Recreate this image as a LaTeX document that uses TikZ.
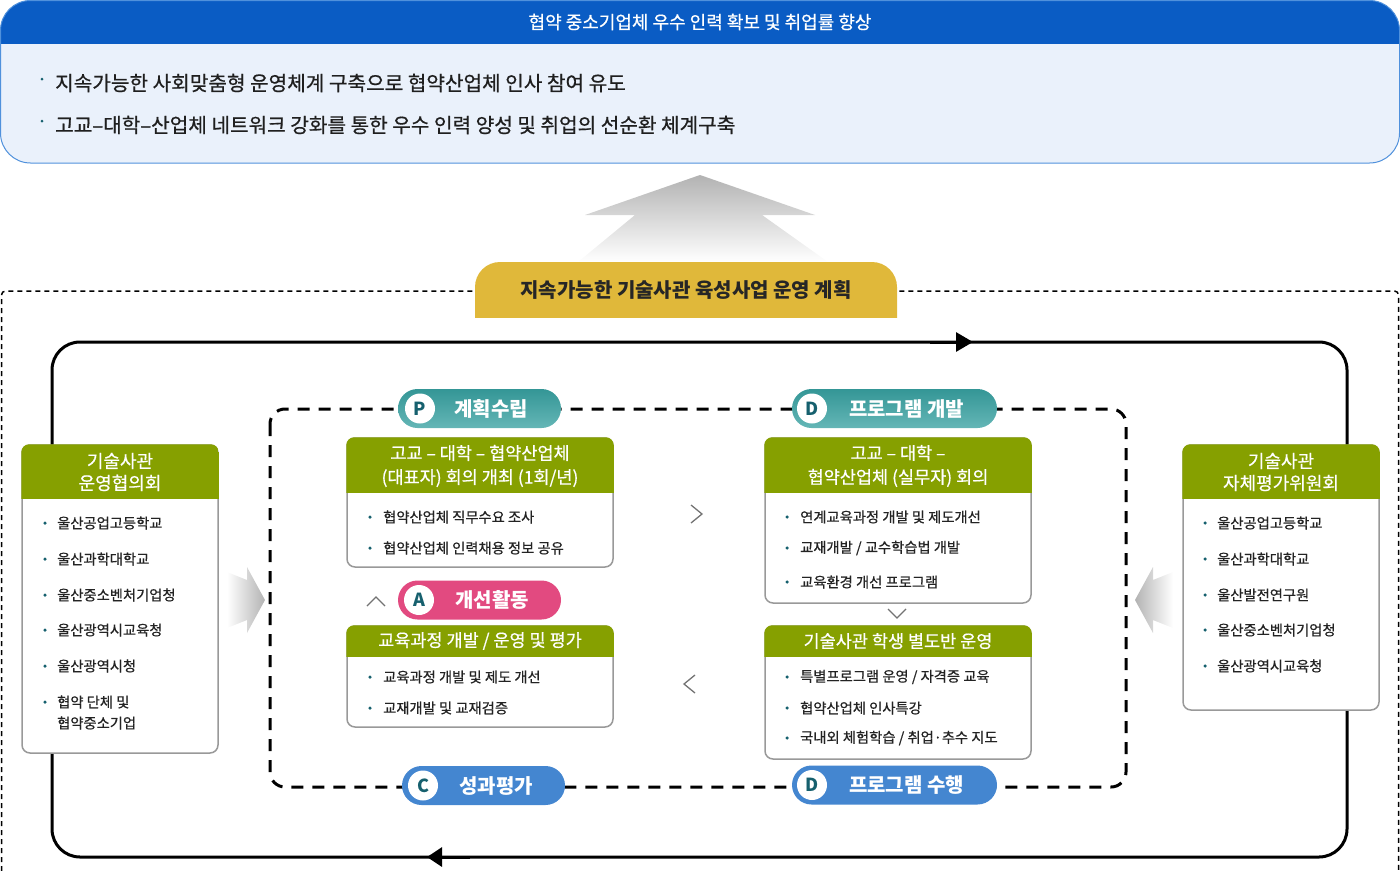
\documentclass[tikz,border=0pt]{standalone}
\usepackage{fontspec}
\setmainfont{Noto Sans CJK KR}
\newfontfamily\medfont{Noto Sans CJK KR}[FakeBold=0.6]
\usetikzlibrary{arrows.meta}

\definecolor{hdblue}{RGB}{10,92,196}
\definecolor{paleblue}{RGB}{234,241,251}
\definecolor{edgeblue}{RGB}{80,145,220}
\definecolor{olive}{RGB}{134,160,0}
\definecolor{tabgold}{RGB}{224,184,58}
\definecolor{tealtop}{RGB}{52,150,150}
\definecolor{tealbot}{RGB}{100,182,182}
\definecolor{pinkbdg}{RGB}{226,74,128}
\definecolor{bluebdg}{RGB}{68,134,208}
\definecolor{dotteal}{RGB}{22,96,110}
\definecolor{itemgray}{RGB}{35,35,35}

\tikzset{
  hdrtxt/.style={text=white, align=center, inner sep=0pt, font=\medfont\fontsize{17.5}{24}\selectfont},
  itemtxt/.style={anchor=west, text=itemgray, inner sep=0pt, align=left, font=\medfont\fontsize{14.3}{21}\selectfont},
  bullet/.style={circle, fill=dotteal, inner sep=0pt, minimum size=3.5pt},
  bodybox/.style={draw=black!40, line width=1.5pt, fill=white, rounded corners=8},
  pill/.style={rounded corners=19.5, minimum height=39pt, inner sep=0pt},
  lettr/.style={circle, fill=white, minimum size=30pt, inner sep=0pt, text=dotteal, font=\fontsize{18}{18}\selectfont\bfseries},
  pilltxt/.style={text=white, inner sep=0pt, font=\fontsize{20}{20}\selectfont\bfseries},
  chev/.style={draw=black!55, line width=1.3pt},
  loopline/.style={line width=3pt, rounded corners=28},
  innerdash/.style={line width=3pt, dash pattern=on 12pt off 9pt, rounded corners=15},
  outerdash/.style={line width=1.5pt, dash pattern=on 5pt off 4pt},
}

\begin{document}
\begin{tikzpicture}[x=1pt, y=-1pt]
\useasboundingbox (0,0) rectangle (1400,870);

% goal box
\begin{scope}
  \clip[rounded corners=30] (0.5,0.5) rectangle (1399.5,163);
  \fill[paleblue] (0,0) rectangle (1400,163);
  \fill[hdblue] (0,0) rectangle (1400,44);
\end{scope}
\draw[edgeblue, line width=1pt, rounded corners=30] (0.5,0.5) rectangle (1399.5,163);
\node[text=white, font=\medfont\fontsize{18}{18}\selectfont] (goal) at (700,22) {협약 중소기업체 우수 인력 확보 및 취업률 향상};
\node[bullet, minimum size=3pt] (g1) at (42,79) {};
\node[anchor=west, inner sep=0pt, text=black!88, font=\medfont\fontsize{20.2}{20.2}\selectfont] (goal-1) at (55,83) {지속가능한 사회맞춤형 운영체계 구축으로 협약산업체 인사 참여 유도};
\node[bullet, minimum size=3pt] (g2) at (42,121) {};
\node[anchor=west, inner sep=0pt, text=black!88, font=\medfont\fontsize{20.2}{20.2}\selectfont] (goal-2) at (55,125) {고교–대학–산업체 네트워크 강화를 통한 우수 인력 양성 및 취업의 선순환 체계구축};

% big arrow up
\shade[top color=black!30, bottom color=white] (700,175) -- (815,215) -- (762,215) -- (828,262) -- (578,262) -- (635,215) -- (585,215) -- cycle;

% outer dashed frame
\draw[outerdash, rounded corners=4] (1.5,880) -- (1.5,291) -- (1398.5,291) -- (1398.5,880);

% plan tab
\begin{scope}
  \clip (0,250) rectangle (1400,317);
  \fill[tabgold, rounded corners=25] (475,262) rectangle (897,345);
\end{scope}
\node[text=black!85, font=\fontsize{20}{20}\selectfont\bfseries] (plan) at (686,290) {지속가능한 기술사관 육성사업 운영 계획};

% cycle loop
\draw[loopline] (52,342) rectangle (1347,857);
\draw[line width=3pt, -{Triangle[length=17pt,width=19pt]}] (930,342) -- (973,342);
\draw[line width=3pt, -{Triangle[length=15pt,width=19pt]}] (470,857) -- (427,857);

% inner PDCA frame
\draw[innerdash] (270,409) rectangle (1126,787);

% side arrows
\shade[left color=white, right color=black!30] (227,572) -- (247,580) -- (247,567) -- (265,600) -- (247,633) -- (247,620) -- (227,628) -- cycle;
\shade[right color=white, left color=black!30] (1173,572) -- (1153,580) -- (1153,567) -- (1135,600) -- (1153,633) -- (1153,620) -- (1173,628) -- cycle;

% left council box
\draw[bodybox] (22,445) rectangle (218,753);
\begin{scope}
  \clip[rounded corners=8] (21.25,444.25) rectangle (218.75,753);
  \fill[olive] (21,444) rectangle (219,499);
\end{scope}
\node[hdrtxt, font=\medfont\fontsize{18}{22}\selectfont] (council) at (120,472) {기술사관\\운영협의회};
\foreach \y/\t [count=\i] in {523/울산공업고등학교, 559/울산과학대학교, 595/울산중소벤처기업청, 630/울산광역시교육청, 666/울산광역시청} {
  \node[bullet] (cb-\i) at (45,\y) {};
  \node[itemtxt] (c-\i) at (57,\y) {\t};
}
\node[bullet] (cb-6) at (45,702) {};
\node[itemtxt] (c-6) at (57,712.5) {협약 단체 및\\협약중소기업};

% right committee box
\draw[bodybox] (1183,445) rectangle (1379,710);
\begin{scope}
  \clip[rounded corners=8] (1182.25,444.25) rectangle (1379.75,710);
  \fill[olive] (1182,444) rectangle (1380,499);
\end{scope}
\node[hdrtxt, font=\medfont\fontsize{18}{22}\selectfont] (committee) at (1281,472) {기술사관\\자체평가위원회};
\foreach \y/\t [count=\i] in {523/울산공업고등학교, 559/울산과학대학교, 595/울산발전연구원, 630/울산중소벤처기업청, 666/울산광역시교육청} {
  \node[bullet] (eb-\i) at (1205,\y) {};
  \node[itemtxt] (e-\i) at (1217,\y) {\t};
}

% P box
\draw[bodybox] (347,438) rectangle (613,567);
\begin{scope}
  \clip[rounded corners=8] (346.25,437.25) rectangle (613.75,567);
  \fill[olive] (346,437) rectangle (614,493);
\end{scope}
\node[hdrtxt] (plan-hd) at (480,466) {고교 – 대학 – 협약산업체\\(대표자) 회의 개최 (1회/년)};
\foreach \y/\t [count=\i] in {517/협약산업체 직무수요 조사, 548/협약산업체 인력채용 정보 공유} {
  \node[bullet] (pb-\i) at (370,\y) {};
  \node[itemtxt] (p-\i) at (383,\y) {\t};
}

% D box (develop)
\draw[bodybox] (765,438) rectangle (1031,603);
\begin{scope}
  \clip[rounded corners=8] (764.25,437.25) rectangle (1031.75,603);
  \fill[olive] (764,437) rectangle (1032,493);
\end{scope}
\node[hdrtxt] (dev-hd) at (898,466) {고교 – 대학 –\\협약산업체 (실무자) 회의};
\foreach \y/\t [count=\i] in {517/연계교육과정 개발 및 제도개선, 548/{교재개발 / 교수학습법 개발}, 582/교육환경 개선 프로그램} {
  \node[bullet] (db-\i) at (787,\y) {};
  \node[itemtxt] (d-\i) at (800,\y) {\t};
}

% A box
\draw[bodybox] (347,626) rectangle (613,727);
\begin{scope}
  \clip[rounded corners=8] (346.25,625.25) rectangle (613.75,727);
  \fill[olive] (346,625) rectangle (614,657);
\end{scope}
\node[hdrtxt] (act-hd) at (480,641) {교육과정 개발 / 운영 및 평가};
\foreach \y/\t [count=\i] in {677/교육과정 개발 및 제도 개선, 708/교재개발 및 교재검증} {
  \node[bullet] (ab-\i) at (370,\y) {};
  \node[itemtxt] (a-\i) at (383,\y) {\t};
}

% D box (run)
\draw[bodybox] (765,626) rectangle (1031,759);
\begin{scope}
  \clip[rounded corners=8] (764.25,625.25) rectangle (1031.75,759);
  \fill[olive] (764,625) rectangle (1032,657);
\end{scope}
\node[hdrtxt] (run-hd) at (898,641) {기술사관 학생 별도반 운영};
\foreach \y/\t [count=\i] in {677/{특별프로그램 운영 / 자격증 교육}, 708/협약산업체 인사특강, 738/{국내외 체험학습 / 취업·추수 지도}} {
  \node[bullet] (rb-\i) at (787,\y) {};
  \node[itemtxt] (r-\i) at (800,\y) {\t};
}

% badges
\node[pill, top color=tealtop, bottom color=tealbot, minimum width=163pt] (pill-p) at (479.5,408.5) {};
\node[lettr] (let-p) at (420,408.5) {P};
\node[pilltxt] (txt-p) at (491,408.5) {계획수립};

\node[pill, top color=tealtop, bottom color=tealbot, minimum width=205pt] (pill-d1) at (894.5,408.5) {};
\node[lettr] (let-d1) at (812,408.5) {D};
\node[pilltxt] (txt-d1) at (906.5,408.5) {프로그램 개발};

\node[pill, fill=pinkbdg, minimum width=163pt] (pill-a) at (479.5,600) {};
\node[lettr] (let-a) at (419,600) {A};
\node[pilltxt] (txt-a) at (492,600) {개선활동};

\node[pill, fill=bluebdg, minimum width=163pt] (pill-c) at (483.5,785.5) {};
\node[lettr] (let-c) at (423,785.5) {C};
\node[pilltxt] (txt-c) at (496,785.5) {성과평가};

\node[pill, fill=bluebdg, minimum width=205pt] (pill-d2) at (894.5,785) {};
\node[lettr] (let-d2) at (812,785) {D};
\node[pilltxt] (txt-d2) at (906.5,785) {프로그램 수행};

% chevrons
\draw[chev] (691,505) -- (702,514) -- (691,523);
\draw[chev] (888,609) -- (897,618) -- (906,609);
\draw[chev] (695,675) -- (684,684) -- (695,693);
\draw[chev] (367,606) -- (376,597) -- (385,606);

\end{tikzpicture}
\end{document}
